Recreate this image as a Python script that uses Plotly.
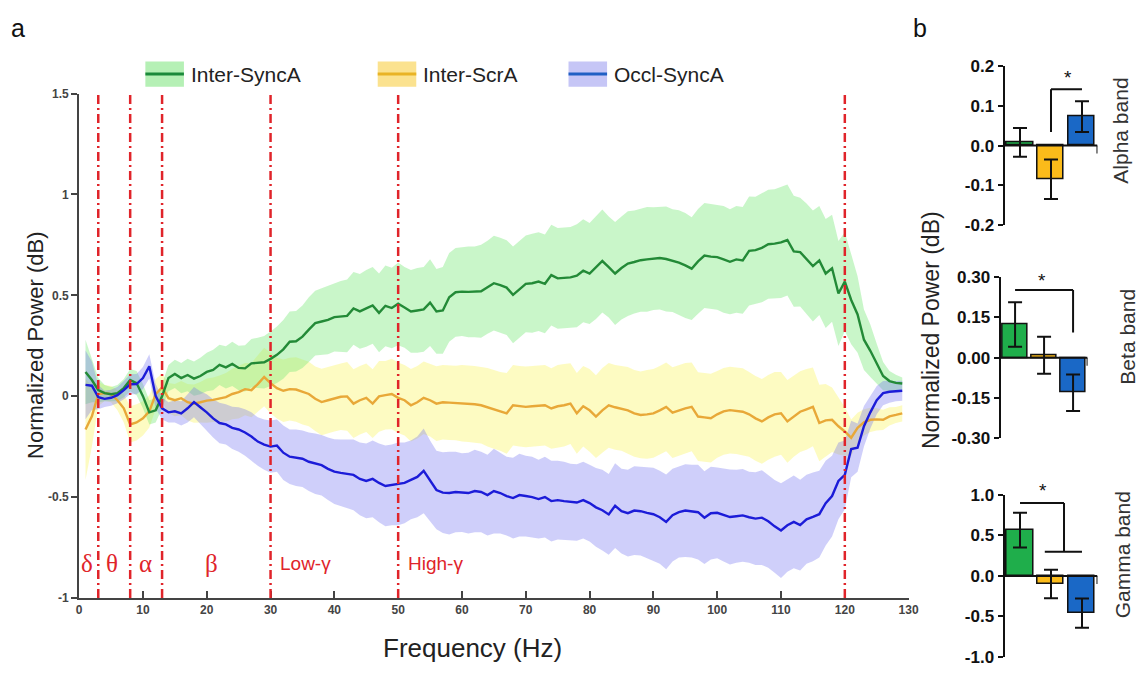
import plotly.graph_objects as go

# ---------------- data: panel a ----------------
freq = list(range(1, 130))

green_mean = [0.12, 0.08, 0.03, 0.015, 0.01, 0.015, 0.04, 0.08, 0.065, 0.0,
              -0.08, -0.07, 0.0, 0.09, 0.11, 0.09, 0.105, 0.087, 0.10, 0.12,
              0.13, 0.155, 0.143, 0.16, 0.14, 0.138, 0.163, 0.165, 0.168, 0.185,
              0.205, 0.232, 0.27, 0.272, 0.295, 0.33, 0.362, 0.37, 0.378, 0.392,
              0.396, 0.398, 0.435, 0.42, 0.435, 0.45, 0.413, 0.448, 0.437, 0.458,
              0.44, 0.42, 0.425, 0.43, 0.464, 0.42, 0.425, 0.49, 0.515, 0.518,
              0.517, 0.517, 0.52, 0.54, 0.56, 0.55, 0.538, 0.502, 0.53, 0.557,
              0.56, 0.568, 0.557, 0.6, 0.584, 0.586, 0.589, 0.597, 0.622, 0.608,
              0.637, 0.67, 0.64, 0.608, 0.635, 0.657, 0.665, 0.674, 0.678, 0.682,
              0.685, 0.68, 0.672, 0.662, 0.648, 0.632, 0.668, 0.697, 0.692, 0.689,
              0.678, 0.666, 0.678, 0.673, 0.72, 0.724, 0.735, 0.753, 0.756, 0.762,
              0.774, 0.718, 0.714, 0.68, 0.645, 0.673, 0.608, 0.634, 0.509, 0.568,
              0.477, 0.405, 0.28, 0.225, 0.16, 0.1, 0.075, 0.066, 0.063]
green_hw = [0.16, 0.11, 0.06, 0.04, 0.035, 0.04, 0.045, 0.055, 0.06, 0.06,
            0.06, 0.06, 0.06, 0.065, 0.07, 0.075, 0.08, 0.085, 0.09, 0.095,
            0.1, 0.1, 0.105, 0.11, 0.11, 0.115, 0.12, 0.125, 0.13, 0.135,
            0.14, 0.145, 0.15, 0.15, 0.155, 0.16, 0.16, 0.165, 0.17, 0.17,
            0.175, 0.18, 0.18, 0.185, 0.19, 0.19, 0.195, 0.2, 0.2, 0.205,
            0.2, 0.205, 0.21, 0.21, 0.215, 0.21, 0.215, 0.22, 0.22, 0.22,
            0.225, 0.225, 0.23, 0.23, 0.235, 0.235, 0.235, 0.24, 0.24, 0.24,
            0.245, 0.245, 0.245, 0.25, 0.25, 0.25, 0.25, 0.255, 0.255, 0.25,
            0.255, 0.255, 0.25, 0.255, 0.255, 0.26, 0.255, 0.255, 0.26, 0.255,
            0.255, 0.26, 0.255, 0.26, 0.26, 0.255, 0.26, 0.26, 0.26, 0.26,
            0.265, 0.26, 0.265, 0.265, 0.27, 0.265, 0.27, 0.27, 0.27, 0.275,
            0.275, 0.275, 0.27, 0.275, 0.275, 0.27, 0.27, 0.265, 0.26, 0.245,
            0.22, 0.19, 0.15, 0.13, 0.1, 0.07, 0.05, 0.04, 0.03]

yellow_mean = [-0.165, -0.10, 0.01, 0.016, 0.01, -0.02, -0.06, -0.14, -0.13, -0.11,
               -0.075, 0.01, 0.043, -0.01, -0.02, -0.01, -0.03, -0.037, -0.03, -0.022,
               -0.018, -0.013, -0.005, 0.011, 0.02, 0.035, 0.03, 0.06, 0.095, 0.065,
               0.04, 0.027, 0.035, 0.033, 0.02, 0.011, -0.013, -0.029, -0.02, -0.01,
               -0.003, -0.001, -0.037, -0.02, -0.008, -0.037, -0.001, 0.005, 0.011, -0.008,
               -0.02, -0.045, -0.03, -0.008, -0.02, -0.037, -0.03, -0.032, -0.034, -0.035,
               -0.037, -0.04, -0.045, -0.055, -0.065, -0.075, -0.085, -0.045, -0.05, -0.053,
               -0.05, -0.048, -0.045, -0.061, -0.05, -0.045, -0.037, -0.085, -0.05, -0.07,
               -0.101, -0.07, -0.045, -0.055, -0.061, -0.07, -0.085, -0.093, -0.09, -0.085,
               -0.07, -0.053, -0.082, -0.069, -0.06, -0.053, -0.101, -0.105, -0.109, -0.09,
               -0.075, -0.069, -0.072, -0.077, -0.09, -0.11, -0.125, -0.105, -0.09, -0.085,
               -0.125, -0.1, -0.077, -0.065, -0.053, -0.133, -0.12, -0.117, -0.149, -0.175,
               -0.206, -0.157, -0.13, -0.117, -0.115, -0.117, -0.1, -0.093, -0.085]
yellow_hw = [0.25, 0.15, 0.06, 0.04, 0.04, 0.05, 0.07, 0.09, 0.09, 0.085,
             0.08, 0.075, 0.07, 0.075, 0.08, 0.085, 0.09, 0.095, 0.1, 0.11,
             0.11, 0.115, 0.12, 0.125, 0.13, 0.13, 0.135, 0.14, 0.145, 0.15,
             0.15, 0.155, 0.155, 0.16, 0.16, 0.16, 0.16, 0.165, 0.165, 0.165,
             0.165, 0.17, 0.17, 0.17, 0.17, 0.17, 0.175, 0.17, 0.175, 0.175,
             0.175, 0.18, 0.18, 0.18, 0.18, 0.185, 0.185, 0.185, 0.185, 0.19,
             0.19, 0.19, 0.19, 0.195, 0.195, 0.195, 0.2, 0.2, 0.2, 0.2,
             0.2, 0.2, 0.2, 0.2, 0.205, 0.205, 0.2, 0.2, 0.2, 0.205,
             0.205, 0.21, 0.21, 0.21, 0.21, 0.215, 0.215, 0.215, 0.22, 0.22,
             0.22, 0.22, 0.225, 0.225, 0.225, 0.22, 0.22, 0.22, 0.22, 0.215,
             0.215, 0.215, 0.215, 0.215, 0.21, 0.21, 0.21, 0.21, 0.21, 0.205,
             0.205, 0.2, 0.2, 0.2, 0.195, 0.19, 0.18, 0.16, 0.14, 0.12,
             0.09, 0.075, 0.065, 0.06, 0.055, 0.05, 0.045, 0.04, 0.04]

blue_mean = [0.056, 0.052, -0.005, -0.013, -0.008, 0.005, 0.03, 0.059, 0.06, 0.09,
             0.148, 0.0, -0.06, -0.08, -0.075, -0.085, -0.06, -0.029, -0.055, -0.08,
             -0.11, -0.133, -0.14, -0.157, -0.165, -0.18, -0.2, -0.225, -0.24, -0.25,
             -0.245, -0.28, -0.30, -0.305, -0.31, -0.325, -0.335, -0.342, -0.36, -0.374,
             -0.38, -0.385, -0.39, -0.41, -0.42, -0.41, -0.43, -0.445, -0.44, -0.435,
             -0.43, -0.415, -0.40, -0.37, -0.42, -0.465, -0.478, -0.48, -0.475, -0.478,
             -0.48, -0.47, -0.475, -0.49, -0.47, -0.48, -0.495, -0.505, -0.49, -0.495,
             -0.5, -0.51, -0.50, -0.52, -0.515, -0.52, -0.525, -0.527, -0.515, -0.53,
             -0.551, -0.565, -0.586, -0.543, -0.57, -0.58, -0.567, -0.57, -0.578, -0.585,
             -0.6, -0.623, -0.59, -0.575, -0.567, -0.57, -0.575, -0.602, -0.58, -0.578,
             -0.59, -0.599, -0.595, -0.591, -0.6, -0.607, -0.602, -0.62, -0.645, -0.666,
             -0.64, -0.623, -0.639, -0.61, -0.598, -0.585, -0.53, -0.495, -0.42, -0.39,
             -0.262, -0.255, -0.149, -0.08, -0.02, 0.015, 0.022, 0.025, 0.027]
blue_hw = [0.17, 0.12, 0.06, 0.04, 0.04, 0.04, 0.045, 0.05, 0.05, 0.055,
           0.06, 0.06, 0.055, 0.05, 0.055, 0.06, 0.07, 0.075, 0.08, 0.09,
           0.095, 0.1, 0.1, 0.105, 0.11, 0.115, 0.12, 0.12, 0.125, 0.13,
           0.13, 0.135, 0.135, 0.14, 0.14, 0.145, 0.15, 0.15, 0.155, 0.16,
           0.165, 0.17, 0.175, 0.18, 0.185, 0.19, 0.195, 0.2, 0.2, 0.205,
           0.2, 0.195, 0.2, 0.21, 0.2, 0.195, 0.2, 0.205, 0.2, 0.195,
           0.2, 0.205, 0.2, 0.2, 0.21, 0.2, 0.195, 0.2, 0.205, 0.2,
           0.2, 0.195, 0.2, 0.2, 0.195, 0.195, 0.19, 0.19, 0.19, 0.19,
           0.195, 0.2, 0.2, 0.21, 0.21, 0.215, 0.22, 0.22, 0.225, 0.23,
           0.23, 0.235, 0.23, 0.225, 0.23, 0.23, 0.235, 0.23, 0.23, 0.225,
           0.23, 0.235, 0.23, 0.23, 0.225, 0.23, 0.235, 0.23, 0.23, 0.235,
           0.23, 0.23, 0.225, 0.22, 0.22, 0.215, 0.21, 0.2, 0.19, 0.17,
           0.14, 0.12, 0.1, 0.08, 0.07, 0.06, 0.055, 0.05, 0.05]

series_names = ["Inter-SyncA", "Inter-ScrA", "Occl-SyncA"]

band_edges = [3, 8, 13, 30, 50, 120]
band_labels = ["δ", "θ", "α", "β", "Low-γ", "High-γ"]
band_label_x = [1.3, 5.1, 10.4, 20.7, 31.2, 51.2]

x_tick_vals = list(range(0, 131, 10))
x_tick_text = [str(v) for v in x_tick_vals]
y_tick_vals = [-1, -0.5, 0, 0.5, 1, 1.5]
y_tick_text = ["-1", "-0.5", "0", "0.5", "1", "1.5"]

# ---------------- data: panel b ----------------
conditions = ["Inter-SyncA", "Inter-ScrA", "Occl-SyncA"]
alpha_mean = [0.008, -0.085, 0.073]
alpha_err = [0.036, 0.05, 0.039]
beta_mean = [0.124, 0.009, -0.13]
beta_err = [0.083, 0.069, 0.068]
gamma_mean = [0.565, -0.1, -0.46]
gamma_err = [0.215, 0.175, 0.18]

alpha_ticks = [-0.2, -0.1, 0.0, 0.1, 0.2]
alpha_ticktext = ["-0.2", "-0.1", "0.0", "0.1", "0.2"]
beta_ticks = [-0.30, -0.15, 0.0, 0.15, 0.30]
beta_ticktext = ["-0.30", "-0.15", "0.00", "0.15", "0.30"]
gamma_ticks = [-1.0, -0.5, 0.0, 0.5, 1.0]
gamma_ticktext = ["-1.0", "-0.5", "0.0", "0.5", "1.0"]

# ---------------- style ----------------
W, H = 1148, 675
FONT = "Liberation Sans, Arial, sans-serif"
line_cols = ["#238a37", "#e8a838", "#1c1cd8"]
fill_cols = ["rgba(120,232,120,0.40)", "rgba(250,245,110,0.42)", "rgba(110,110,240,0.33)"]
legend_patch = ["#b5f0b5", "#fbe28f", "#c6c6f6"]
legend_line = ["#1b8a3a", "#e9b325", "#2060c4"]
bar_cols = ["#1fae4b", "#fbbb1a", "#1a68c6"]
RED = "#e0242a"


def px(x):
    return x / W


def py(y):
    return 1 - y / H


fig = go.Figure()

means = [green_mean, yellow_mean, blue_mean]
hws = [green_hw, yellow_hw, blue_hw]

# shaded bands (yellow, green, blue order)
for i in [1, 0, 2]:
    up = [m + h for m, h in zip(means[i], hws[i])]
    lo = [m - h for m, h in zip(means[i], hws[i])]
    fig.add_trace(go.Scatter(x=freq + freq[::-1], y=up + lo[::-1], fill="toself",
                             fillcolor=fill_cols[i], line=dict(width=0),
                             mode="lines", hoverinfo="skip", showlegend=False,
                             xaxis="x", yaxis="y"))
for i in [1, 0, 2]:
    fig.add_trace(go.Scatter(x=freq, y=means[i], mode="lines", name=series_names[i],
                             line=dict(color=line_cols[i], width=2.4),
                             showlegend=False, xaxis="x", yaxis="y"))

# bars
panels = [("x2", "y2", alpha_mean, alpha_err), ("x3", "y3", beta_mean, beta_err),
          ("x4", "y4", gamma_mean, gamma_err)]
for xa, ya, m, e in panels:
    fig.add_trace(go.Bar(x=[0, 1, 2], y=m, width=0.84, marker=dict(color=bar_cols,
                         line=dict(color="#111", width=1.5)),
                         error_y=dict(type="data", array=e, color="#111", thickness=2, width=7),
                         showlegend=False, xaxis=xa, yaxis=ya, hoverinfo="skip"))

shapes = []
for b in band_edges:
    shapes.append(dict(type="line", xref="x", yref="y", x0=b, x1=b, y0=-1, y1=1.5,
                       line=dict(color=RED, width=2.5, dash="9px,4px,2px,4px"), layer="above"))

# panel b baselines + right hooks
for xa, ya, hook in [("x2", "y2", -0.02), ("x3", "y3", -0.03), ("x4", "y4", -0.1)]:
    shapes.append(dict(type="line", xref=xa, yref=ya, x0=-0.5, x1=2.5, y0=0, y1=0,
                       line=dict(color="#111", width=2), layer="above"))
    shapes.append(dict(type="line", xref=xa, yref=ya, x0=2.5, x1=2.5, y0=0, y1=hook,
                       line=dict(color="#111", width=2), layer="above"))

# significance brackets
def seg(xa, ya, x0, y0, x1, y1):
    shapes.append(dict(type="line", xref=xa, yref=ya, x0=x0, x1=x1, y0=y0, y1=y1,
                       line=dict(color="#111", width=2), layer="above"))

seg("x2", "y2", 1, 0.034, 1, 0.142)
seg("x2", "y2", 1, 0.142, 2, 0.142)
seg("x3", "y3", 0, 0.252, 2, 0.252)
seg("x3", "y3", 2, 0.252, 2, 0.094)
seg("x4", "y4", 0, 0.9, 1.42, 0.9)
seg("x4", "y4", 1.42, 0.9, 1.42, 0.3)
seg("x4", "y4", 0.8, 0.3, 2.0, 0.3)

# legend patches
leg_x = [144, 379, 572]
for i in range(3):
    shapes.append(dict(type="rect", xref="paper", yref="paper", x0=px(leg_x[i]), x1=px(leg_x[i] + 39),
                       y0=py(80), y1=py(54), fillcolor=legend_patch[i], line=dict(width=0)))
    shapes.append(dict(type="line", xref="paper", yref="paper", x0=px(leg_x[i]), x1=px(leg_x[i] + 39),
                       y0=py(67), y1=py(67), line=dict(color=legend_line[i], width=3)))

annotations = []
for i in range(3):
    annotations.append(dict(xref="paper", yref="paper", x=px(leg_x[i] + 44), y=py(67),
                            text=series_names[i], showarrow=False, xanchor="left", yanchor="middle",
                            font=dict(family=FONT, size=21, color="#222")))

for lab, lx in zip(band_labels, band_label_x):
    greek = len(lab) == 1
    annotations.append(dict(xref="x", yref="y", x=lx, y=-0.83, text=lab, showarrow=False,
                            xanchor="center" if greek else "left", yanchor="middle",
                            font=dict(family="Liberation Serif, serif" if greek else FONT,
                                      size=25 if greek else 19, color=RED)))

annotations += [
    dict(xref="paper", yref="paper", x=px(15), y=py(20), text="a", showarrow=False,
         xanchor="center", yanchor="middle", font=dict(family=FONT, size=25, color="#111")),
    dict(xref="paper", yref="paper", x=px(927), y=py(20), text="b", showarrow=False,
         xanchor="center", yanchor="middle", font=dict(family=FONT, size=25, color="#111")),
    dict(xref="paper", yref="paper", x=px(475), y=py(657), text="Frequency (Hz)", showarrow=False,
         xanchor="center", yanchor="middle", font=dict(family=FONT, size=26, color="#222")),
    dict(xref="paper", yref="paper", x=px(33), y=py(346), text="Normalized Power (dB)", showarrow=False,
         textangle=-90, xanchor="center", yanchor="middle", font=dict(family=FONT, size=22, color="#222")),
    dict(xref="paper", yref="paper", x=px(938), y=py(330), text="Normalized Power (dB)", showarrow=False,
         textangle=-90, xanchor="center", yanchor="middle", font=dict(family=FONT, size=23, color="#222")),
    dict(xref="paper", yref="paper", x=px(1130), y=py(125), text="Alpha band", showarrow=False,
         textangle=-90, xanchor="center", yanchor="middle", font=dict(family=FONT, size=21, color="#333")),
    dict(xref="paper", yref="paper", x=px(1137), y=py(337), text="Beta band", showarrow=False,
         textangle=-90, xanchor="center", yanchor="middle", font=dict(family=FONT, size=21, color="#333")),
    dict(xref="paper", yref="paper", x=px(1132), y=py(562), text="Gamma band", showarrow=False,
         textangle=-90, xanchor="center", yanchor="middle", font=dict(family=FONT, size=21, color="#333")),
    dict(xref="paper", yref="paper", x=px(1077), y=py(70), text="*", showarrow=False,
         xanchor="center", yanchor="middle", font=dict(family=FONT, size=19, color="#111")),
    dict(xref="paper", yref="paper", x=px(1051), y=py(279), text="*", showarrow=False,
         xanchor="center", yanchor="middle", font=dict(family=FONT, size=19, color="#111")),
    dict(xref="paper", yref="paper", x=px(1052), y=py(495), text="*", showarrow=False,
         xanchor="center", yanchor="middle", font=dict(family=FONT, size=19, color="#111")),
]

tickfont_a = dict(family=FONT, size=12, color="#444", weight="bold")
tickfont_b = dict(family=FONT, size=17, color="#111", weight="bold")

def baxis_y(domain, rng, tv, tt, anchor):
    return dict(domain=domain, range=rng, tickvals=tv, ticktext=tt, showline=True, linecolor="#111",
                linewidth=2, ticks="outside", ticklen=5, tickwidth=2, tickcolor="#111",
                tickfont=tickfont_b, showgrid=False, zeroline=False, anchor=anchor)

def baxis_x(domain, anchor):
    return dict(domain=domain, range=[-0.5, 2.5], showline=False, showticklabels=False,
                ticks="", showgrid=False, zeroline=False, anchor=anchor)

fig.update_layout(
    width=W, height=H, autosize=False,
    margin=dict(l=0, r=0, t=0, b=0),
    paper_bgcolor="white", plot_bgcolor="rgba(0,0,0,0)",
    showlegend=False, bargap=0,
    xaxis=dict(domain=[px(77), px(916)], range=[0, 130], tickvals=x_tick_vals, ticktext=x_tick_text,
               showline=True, linecolor="#444", linewidth=2, ticks="inside", ticklen=7, tickwidth=2,
               tickcolor="#444", tickfont=tickfont_a, showgrid=False, zeroline=False, anchor="y"),
    yaxis=dict(domain=[py(606), py(87)], range=[-1, 1.5], tickvals=y_tick_vals, ticktext=y_tick_text,
               showline=True, linecolor="#444", linewidth=2, ticks="outside", ticklen=6, tickwidth=2,
               tickcolor="#444", tickfont=tickfont_a, showgrid=False, zeroline=False, anchor="x"),
    xaxis2=baxis_x([px(1013), px(1107)], "y2"),
    yaxis2=baxis_y([py(222), py(59)], [-0.2, 0.2], alpha_ticks, alpha_ticktext, "x2"),
    xaxis3=baxis_x([px(1009), px(1097)], "y3"),
    yaxis3=baxis_y([py(441.7), py(276)], [-0.3, 0.3], beta_ticks, beta_ticktext, "x3"),
    xaxis4=baxis_x([px(1013), px(1107)], "y4"),
    yaxis4=baxis_y([py(666.7), py(500)], [-1.0, 1.0], gamma_ticks, gamma_ticktext, "x4"),
    shapes=shapes,
    annotations=annotations,
)

fig.write_html("out.html", post_script="document.body.style.margin='0';")
